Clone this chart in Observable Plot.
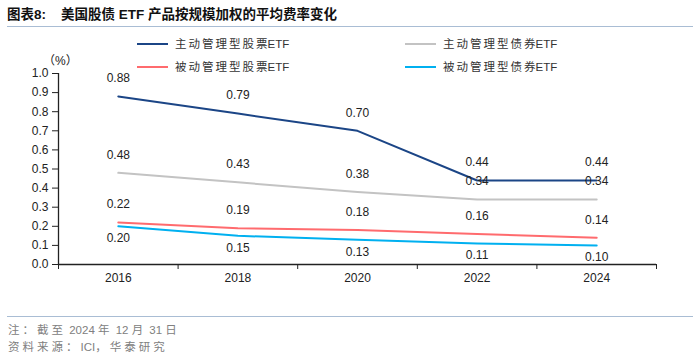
<!DOCTYPE html>
<html>
<head>
<meta charset="utf-8">
<script src="https://cdn.jsdelivr.net/npm/d3@7"></script>
<script src="https://cdn.jsdelivr.net/npm/@observablehq/plot@0.6"></script>
<style>
  html, body { margin: 0; padding: 0; background: #fff; }
  #wrap { position: relative; width: 700px; height: 356px; overflow: hidden; font-family: "Liberation Sans", Arial, "Noto Sans CJK SC", sans-serif; }
  #chart { position: absolute; left: 0; top: 0; }
  .title { position: absolute; left: 7px; top: 3px; font-family: "Liberation Sans", "Noto Sans CJK SC", sans-serif; font-weight: bold; font-size: 13.5px; color: #111; white-space: nowrap; }
  .rule { position: absolute; left: 7px; width: 686px; height: 0; border-top: 1.5px solid #a9bdd4; }
  .unit { position: absolute; left: 43px; top: 51px; font-size: 12px; color: #222; }
  .leg { position: absolute; font-size: 11.5px; color: #333; white-space: nowrap; font-family: "Liberation Sans", "Noto Sans CJK SC", sans-serif; }
  .leg .sw { display: inline-block; width: 31px; height: 0; border-top: 2px solid; vertical-align: middle; margin-right: 7px; position: relative; top: -1px; }
  .leg .cjk { letter-spacing: 2px; font-family: "Noto Sans CJK SC", sans-serif; }
  .leg .last { font-family: "Noto Sans CJK SC", sans-serif; }
  .foot { position: absolute; left: 8px; font-size: 11.5px; color: #808080; white-space: nowrap; }
  .foot .cjk { letter-spacing: 3px; font-family: "Noto Sans CJK SC", sans-serif; }
</style>
</head>
<body>
<div id="wrap">
  <div id="chart"></div>
  <div class="title">图表8:&nbsp;&nbsp;&nbsp; 美国股债 ETF 产品按规模加权的平均费率变化</div>
  <div class="rule" style="top:26px"></div>
  <div class="unit">（%）</div>
  <div id="legend"></div>
  <div class="rule" style="top:316px"></div>
  <div class="foot" style="top:321px"><span class="cjk">注：截至</span> 2024 <span class="cjk">年</span> 12 <span class="cjk">月</span> 31 <span class="cjk">日</span></div>
  <div class="foot" style="top:338px"><span class="cjk">资料来源：</span>ICI<span class="cjk">，华泰研究</span></div>
</div>
<script>
const years = [2016, 2018, 2020, 2022, 2024];
const seriesNames = ["主动管理型股票ETF", "主动管理型债券ETF", "被动管理型股票ETF", "被动管理型债券ETF"];
const seriesColors = ["#1b4586", "#c3c3c3", "#ff6b6e", "#00b0f0"];
const activeEquity = [0.88, 0.79, 0.70, 0.44, 0.44];
const activeBond   = [0.48, 0.43, 0.38, 0.34, 0.34];
const passiveEquity = [0.22, 0.19, 0.18, 0.16, 0.14];
const passiveBond   = [0.20, 0.15, 0.13, 0.11, 0.10];
const seriesValues = [activeEquity, activeBond, passiveEquity, passiveBond];
const labelBelow = [false, false, false, true];
const yTicks = [0, 0.1, 0.2, 0.3, 0.4, 0.5, 0.6, 0.7, 0.8, 0.9, 1.0];
const xBounds = [2015, 2017, 2019, 2021, 2023, 2025];

const rows = [];
seriesNames.forEach((name, i) => {
  years.forEach((yr, j) => rows.push({series: name, idx: i, year: yr, value: seriesValues[i][j], below: labelBelow[i]}));
});

const marks = [];
seriesNames.forEach((name, i) => {
  marks.push(Plot.lineY(rows.filter(d => d.idx === i), {x: "year", y: "value", stroke: seriesColors[i], strokeWidth: 2}));
});
marks.push(
  Plot.text(rows.filter(d => !d.below), {x: "year", y: "value", text: d => d.value.toFixed(2), dy: -18, fontSize: 12, fill: "#222"}),
  Plot.text(rows.filter(d => d.below), {x: "year", y: "value", text: d => d.value.toFixed(2), dy: 12, fontSize: 12, fill: "#222"}),
  Plot.ruleX([2015], {y1: 0, y2: 1, stroke: "#222", strokeWidth: 1.3}),
  Plot.ruleY([0], {stroke: "#222", strokeWidth: 1.3}),
  Plot.axisY({ticks: yTicks, tickFormat: d => d.toFixed(1), tickSize: 6, tickPadding: 4, fontSize: 12, stroke: "#222", label: null, color: "#222"}),
  Plot.axisX({ticks: xBounds, tickFormat: () => "", tickSize: 5, stroke: "#222", label: null}),
  Plot.axisX({ticks: years, tickFormat: d => String(d), tickSize: 0, tickPadding: 9, fontSize: 12, label: null, color: "#222"})
);

const chart = Plot.plot({
  width: 700,
  height: 356,
  marginTop: 73,
  marginBottom: 92,
  marginLeft: 58,
  marginRight: 44,
  x: {type: "linear", domain: [2015, 2025]},
  y: {domain: [0, 1]},
  style: {fontFamily: "'Liberation Sans', Arial, sans-serif", fontSize: "12px", background: "transparent", color: "#222"},
  marks
});
document.getElementById("chart").appendChild(chart);

// legend
const legPos = [[137, 35], [405, 35], [137, 58], [405, 58]];
const legend = document.getElementById("legend");
seriesNames.forEach((name, i) => {
  const div = document.createElement("div");
  div.className = "leg";
  div.style.left = legPos[i][0] + "px";
  div.style.top = legPos[i][1] + "px";
  const cjk = name.replace("ETF", "");
  div.innerHTML = `<span class="sw" style="border-color:${seriesColors[i]}"></span><span class="cjk">${cjk.slice(0, -1)}</span><span class="last">${cjk.slice(-1)}</span>ETF`;
  legend.appendChild(div);
});
</script>
</body>
</html>
